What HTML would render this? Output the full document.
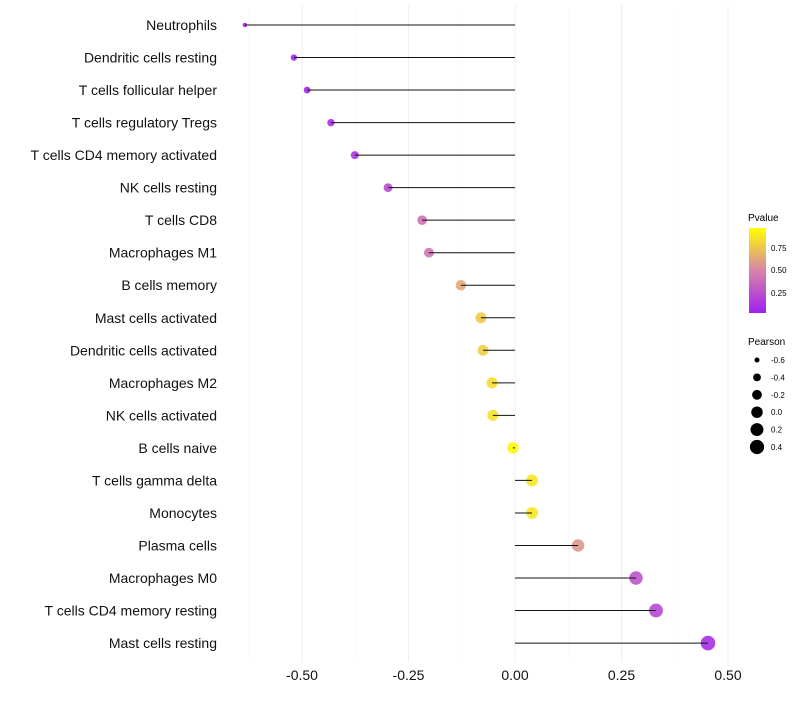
<!DOCTYPE html>
<html><head><meta charset="utf-8"><style>
body{margin:0;background:#fff;font-family:"Liberation Sans",sans-serif}
svg text{font-family:"Liberation Sans",sans-serif}
</style></head><body>
<svg id="chart" width="800" height="700" xmlns="http://www.w3.org/2000/svg">
<g id="grid"></g>
<g id="marks"></g>
<g id="ylabels"></g>
<g id="xlabels"></g>
<g id="legend">
<defs><linearGradient id="pg" x1="0" y1="1" x2="0" y2="0">
<stop offset="0" stop-color="#a020f0"/><stop offset="0.5" stop-color="#d884a8"/><stop offset="1" stop-color="#ffff00"/></linearGradient></defs>
<text x="748" y="221" font-size="10">Pvalue</text>
<rect x="749" y="228" width="17" height="85" fill="url(#pg)"/>
<text x="771" y="251" font-size="8">0.75</text>
<text x="771" y="273" font-size="8">0.50</text>
<text x="771" y="296" font-size="8">0.25</text>
<text x="748" y="345" font-size="10">Pearson</text>
</g>
</svg>
<script>
const categories=["Neutrophils","Dendritic cells resting","T cells follicular helper","T cells regulatory  Tregs","T cells CD4 memory activated","NK cells resting","T cells CD8","Macrophages M1","B cells memory","Mast cells activated","Dendritic cells activated","Macrophages M2","NK cells activated","B cells naive","T cells gamma delta","Monocytes","Plasma cells","Macrophages M0","T cells CD4 memory resting","Mast cells resting"];
const pearson=[-0.634,-0.519,-0.488,-0.432,-0.376,-0.298,-0.218,-0.202,-0.127,-0.080,-0.075,-0.054,-0.052,-0.005,0.040,0.040,0.148,0.284,0.331,0.453];
const pvalue=[0.02,0.03,0.04,0.07,0.12,0.22,0.40,0.42,0.65,0.78,0.80,0.87,0.88,0.98,0.90,0.90,0.58,0.26,0.20,0.08];
const xTicks=[-0.5,-0.25,0,0.25,0.5];
const xMinor=[-0.625,-0.375,-0.125,0.125,0.375];
const sizeLegend=[-0.6,-0.4,-0.2,0.0,0.2,0.4];
const NS="http://www.w3.org/2000/svg";
const x=v=>515+v*426;
const y=i=>25+i*32.53;
const r=v=>Math.sqrt(Math.max(1,6.5+44*(v+0.6)));
function lerp(a,b,t){return a.map((c,i)=>Math.round(c+(b[i]-c)*t));}
function col(p){const s=[[160,32,240],[216,132,168],[255,255,0]];const c=p<0.5?lerp(s[0],s[1],p/0.5):lerp(s[1],s[2],(p-0.5)/0.5);return `rgb(${c.join(",")})`;}
function mk(tag,attrs,parent){const e=document.createElementNS(NS,tag);for(const k in attrs)e.setAttribute(k,attrs[k]);document.getElementById(parent).appendChild(e);return e;}
xMinor.forEach(v=>{const l=mk("line",{x1:x(v),x2:x(v),y1:5,y2:662,stroke:"#f7f7f7","stroke-width":0.6},"grid");

});
xTicks.forEach(v=>{const l=mk("line",{x1:x(v),x2:x(v),y1:5,y2:662,stroke:"#f0f0f0","stroke-width":1.1},"grid");


const t=mk("text",{x:x(v),y:680,"font-size":14,"text-anchor":"middle",fill:"#111"},"xlabels");
t.textContent=v.toFixed(2);

});
categories.forEach((c,i)=>{
const t=mk("text",{x:217,y:y(i)+5,"font-size":14,"text-anchor":"end",fill:"#111"},"ylabels");
t.textContent=c;


const p=mk("circle",{cx:x(pearson[i]),cy:y(i),r:r(pearson[i]),fill:col(pvalue[i]),"fill-opacity":0.9},"marks");


const l=mk("line",{x1:x(0),x2:x(pearson[i]),y1:y(i),y2:y(i),stroke:"#111","stroke-width":1},"marks");

});
sizeLegend.forEach((v,i)=>{const cy=360+i*17.4;
const c=mk("circle",{cx:757,cy:cy,r:r(v),fill:"#000"},"legend");


const t=mk("text",{x:771,y:cy+3,"font-size":8},"legend");
t.textContent=v.toFixed(1);

});
</script>
</body></html>
